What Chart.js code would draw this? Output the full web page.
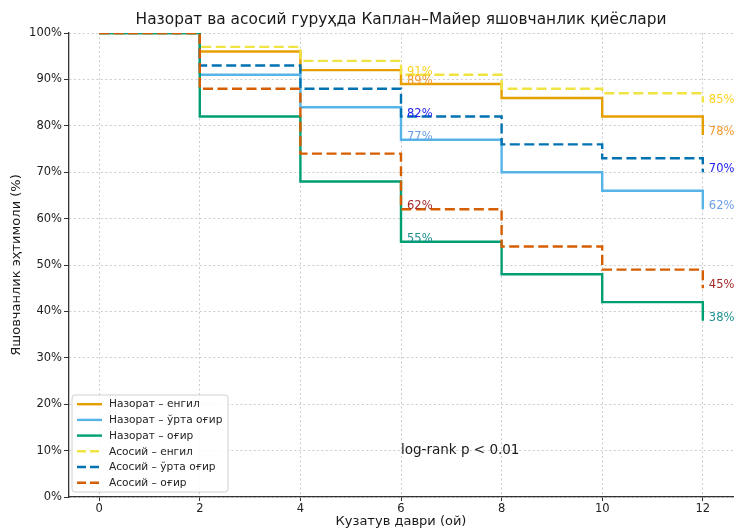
<!DOCTYPE html>
<html>
<head>
<meta charset="utf-8">
<script src="https://cdn.jsdelivr.net/npm/chart.js@4/dist/chart.umd.min.js"></script>
<style>
  html, body { margin: 0; padding: 0; background: #ffffff; }
  #wrap { width: 735px; height: 531px; }
</style>
</head>
<body>
<div id="wrap"><canvas id="km"></canvas></div>
<script>
// Follow-up time points (months)
const months = [0, 2, 4, 6, 8, 10, 12];

// Survival probability (%) per group at each time point
const controlMild     = [100, 96, 92, 89, 86, 82, 78];
const controlModerate = [100, 91, 84, 77, 70, 66, 62];
const controlSevere   = [100, 82, 68, 55, 48, 42, 38];
const mainMild        = [100, 97, 94, 91, 88, 87, 85];
const mainModerate    = [100, 93, 88, 82, 76, 73, 70];
const mainSevere      = [100, 88, 74, 62, 54, 49, 45];

const seriesNames = [
  'Назорат – енгил',
  'Назорат – ўрта оғир',
  'Назорат – оғир',
  'Асосий – енгил',
  'Асосий – ўрта оғир',
  'Асосий – оғир'
];

// Axis ticks
const xTicks = [0, 2, 4, 6, 8, 10, 12];
const yTicks = [0, 10, 20, 30, 40, 50, 60, 70, 80, 90, 100];

// Months at which the percentage is printed next to each curve
const labelMonths = [6, 12];

const titleText = 'Назорат ва асосий гуруҳда Каплан–Майер яшовчанлик қиёслари';
const xTitle = 'Кузатув даври (ой)';
const yTitle = 'Яшовчанлик эҳтимоли (%)';
const noteText = 'log-rank p < 0.01';
const noteAt = { x: 6, y: 10 };

const seriesValues = [controlMild, controlModerate, controlSevere, mainMild, mainModerate, mainSevere];
const lineColors  = ['#E69F00', '#56B4E9', '#009E73', '#F0E442', '#0072B2', '#D55E00'];
const labelColors = ['#F59A2E', '#6CA0E6', '#1F9090', '#FFD21F', '#2222EE', '#A52A2A'];
const dashed = [false, false, false, true, true, true];

const FONT = "'DejaVu Sans', 'Liberation Sans', sans-serif";

const datasets = seriesValues.map((vals, i) => ({
  label: seriesNames[i],
  data: months.map((m, k) => ({ x: m, y: vals[k] })),
  borderColor: lineColors[i],
  backgroundColor: lineColors[i],
  borderWidth: 2.4,
  borderDash: dashed[i] ? [10, 4.5] : [],
  stepped: 'before',
  pointRadius: 0,
  fill: false,
  tension: 0,
  order: seriesValues.length - i
}));

// Title centred over the plotting area
const titlePlugin = {
  id: 'plotTitle',
  afterDraw(chart) {
    const ctx = chart.ctx, a = chart.chartArea;
    ctx.save();
    ctx.font = '15.4px ' + FONT;
    ctx.fillStyle = '#1a1a1a';
    ctx.textAlign = 'center';
    ctx.textBaseline = 'middle';
    ctx.fillText(titleText, (a.left + a.right) / 2, 20);
    ctx.restore();
  }
};

// Percent labels, note text and framed legend drawn over the plot
const overlayPlugin = {
  id: 'overlay',
  afterDatasetsDraw(chart) {
    const ctx = chart.ctx;
    const xs = chart.scales.x, ys = chart.scales.y;
    ctx.save();

    // value labels
    ctx.font = '11.5px ' + FONT;
    ctx.textAlign = 'left';
    ctx.textBaseline = 'alphabetic';
    seriesValues.forEach((vals, i) => {
      labelMonths.forEach(m => {
        const k = months.indexOf(m);
        const v = vals[k];
        ctx.fillStyle = labelColors[i];
        ctx.fillText(v + '%', xs.getPixelForValue(m) + 6, ys.getPixelForValue(v));
      });
    });

    // note
    ctx.font = '13.5px ' + FONT;
    ctx.fillStyle = '#1a1a1a';
    ctx.fillText(noteText, xs.getPixelForValue(noteAt.x), ys.getPixelForValue(noteAt.y) + 3);

    // legend
    const bx = 72, by = 395, bw = 156, bh = 97, r = 3;
    ctx.beginPath();
    ctx.moveTo(bx + r, by);
    ctx.arcTo(bx + bw, by, bx + bw, by + bh, r);
    ctx.arcTo(bx + bw, by + bh, bx, by + bh, r);
    ctx.arcTo(bx, by + bh, bx, by, r);
    ctx.arcTo(bx, by, bx + bw, by, r);
    ctx.closePath();
    ctx.fillStyle = 'rgba(255,255,255,0.85)';
    ctx.fill();
    ctx.strokeStyle = '#d0d0d0';
    ctx.lineWidth = 1;
    ctx.stroke();

    ctx.font = '10.6px ' + FONT;
    ctx.textBaseline = 'middle';
    chart.data.datasets.forEach((ds, i) => {
      const y = 404.2 + i * 15.7;
      ctx.beginPath();
      ctx.setLineDash(ds.borderDash.length ? [9, 4] : []);
      ctx.strokeStyle = ds.borderColor;
      ctx.lineWidth = 2.4;
      ctx.moveTo(77, y);
      ctx.lineTo(102, y);
      ctx.stroke();
      ctx.setLineDash([]);
      ctx.fillStyle = '#222222';
      ctx.fillText(ds.label, 109, y + 0.5);
    });
    ctx.restore();
  }
};

new Chart(document.getElementById('km'), {
  type: 'line',
  data: { datasets },
  plugins: [overlayPlugin, titlePlugin],
  options: {
    responsive: true,
    maintainAspectRatio: false,
    animation: false,
    layout: { padding: { left: 0, right: 2, top: 33, bottom: 0 } },
    plugins: {
      legend: { display: false },
      tooltip: { enabled: false },
      title: { display: false }
    },
    scales: {
      x: {
        type: 'linear',
        min: -0.6,
        max: 12.6,
        afterBuildTicks: s => { s.ticks = xTicks.map(v => ({ value: v })); },
        afterFit: s => { s.height = 34; },
        ticks: {
          color: '#222222',
          font: { family: FONT, size: 11.5 },
          padding: 1,
          maxRotation: 0,
          autoSkip: false
        },
        grid: {
          color: '#cccccc',
          lineWidth: 1,
          tickColor: '#333333',
          tickBorderDash: [],
          tickLength: 4,
          drawTicks: true
        },
        border: { display: true, color: '#333333', width: 1.3, dash: [2, 2.5] },
        title: {
          display: true,
          text: xTitle,
          color: '#1a1a1a',
          font: { family: FONT, size: 13 },
          padding: { top: 0, bottom: 2 }
        }
      },
      y: {
        type: 'linear',
        min: 0,
        max: 100,
        afterBuildTicks: s => { s.ticks = yTicks.map(v => ({ value: v })); },
        afterFit: s => { s.width = 69; },
        ticks: {
          color: '#222222',
          font: { family: FONT, size: 11.5 },
          padding: 2,
          callback: v => v + '%'
        },
        grid: {
          color: '#cccccc',
          lineWidth: 1,
          tickColor: '#333333',
          tickBorderDash: [],
          tickLength: 5,
          drawTicks: true
        },
        border: { display: true, color: '#333333', width: 1.3, dash: [2, 2.5] },
        title: {
          display: true,
          text: yTitle,
          color: '#1a1a1a',
          font: { family: FONT, size: 13 },
          padding: { top: 9, bottom: 0 }
        }
      }
    }
  }
});
</script>
</body>
</html>
